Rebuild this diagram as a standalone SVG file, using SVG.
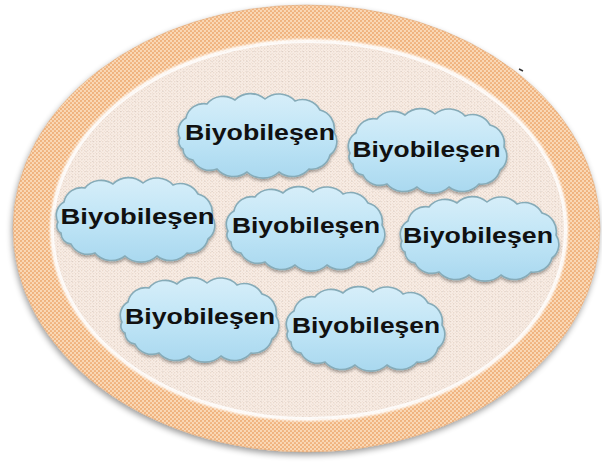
<svg xmlns="http://www.w3.org/2000/svg" xmlns:xlink="http://www.w3.org/1999/xlink" width="602" height="465" viewBox="0 0 602 465">
  <defs>
    <style>
      .label { font-family: "Liberation Sans", Arial, sans-serif; font-weight: bold; font-size: 22px; fill: #111; text-anchor: middle; }
      .cloud { fill: url(#cloudFill); stroke: #86abb8; stroke-width: 1.6; filter: url(#cloudShadow); }
    </style>
    <!-- dotted texture of the outer ring -->
    <pattern id="ringTex" width="4" height="4" patternUnits="userSpaceOnUse">
      <rect width="4" height="4" fill="#fad8b5"/>
      <circle cx="1" cy="1" r="1.1" fill="#efb07a"/>
      <circle cx="3" cy="3" r="1.1" fill="#efb07a"/>
    </pattern>
    <!-- speckled texture of the inner area -->
    <pattern id="innerTex" width="3" height="3" patternUnits="userSpaceOnUse">
      <rect width="3" height="3" fill="#f8ede5"/>
      <circle cx="0.8" cy="0.8" r="0.55" fill="#dcc3b3"/>
      <circle cx="2.3" cy="2.2" r="0.45" fill="#e8cfc0"/>
    </pattern>
    <pattern id="innerSpeck" width="7" height="5" patternUnits="userSpaceOnUse">
      <circle cx="2" cy="1.5" r="0.5" fill="#a9a09a"/>
      <circle cx="5.5" cy="4" r="0.4" fill="#b8aba2"/>
    </pattern>
    <linearGradient id="cloudFill" x1="0" y1="0" x2="0" y2="1">
      <stop offset="0" stop-color="#d6eef9"/>
      <stop offset="0.5" stop-color="#c0e5f6"/>
      <stop offset="1" stop-color="#a9d8ef"/>
    </linearGradient>
    <filter id="ringShadow" x="-10%" y="-10%" width="120%" height="120%">
      <feGaussianBlur in="SourceAlpha" stdDeviation="3"/>
      <feOffset dx="-1" dy="3"/>
      <feComponentTransfer><feFuncA type="linear" slope="0.4"/></feComponentTransfer>
      <feMerge><feMergeNode/><feMergeNode in="SourceGraphic"/></feMerge>
    </filter>
    <filter id="soft" x="-5%" y="-5%" width="110%" height="110%">
      <feGaussianBlur stdDeviation="1.2"/>
    </filter>
    <filter id="cloudShadow" x="-10%" y="-10%" width="120%" height="125%">
      <feGaussianBlur in="SourceAlpha" stdDeviation="1.5"/>
      <feOffset dx="0" dy="2"/>
      <feComponentTransfer><feFuncA type="linear" slope="0.35"/></feComponentTransfer>
      <feMerge><feMergeNode/><feMergeNode in="SourceGraphic"/></feMerge>
    </filter>
    <!-- cloud outline in a 160 x 86 box -->
    <path id="cloudShape" d="M3,46 A15,15 0 0 1 9,26 A18,18 0 0 1 30,12 A21,21 0 0 1 58,8 A22,22 0 0 1 88,7 A22,22 0 0 1 118,9 A20,20 0 0 1 143,18 A19,19 0 0 1 157,40 A17,17 0 0 1 153,63 A19,19 0 0 1 132,77 A22,22 0 0 1 102,80 A24,24 0 0 1 70,80 A22,22 0 0 1 40,77 A19,19 0 0 1 16,68 A11,11 0 0 1 6,57 A8,8 0 0 1 3,46 Z"/>
  </defs>

  <rect width="602" height="465" fill="#ffffff"/>

  <!-- outer ring -->
  <g id="ring">
    <ellipse cx="306.5" cy="228.5" rx="293.5" ry="223.5" fill="url(#ringTex)" filter="url(#ringShadow)"/>
    <ellipse cx="306.5" cy="228.5" rx="293.5" ry="223.5" fill="none" stroke="#d9a577" stroke-width="1" opacity="0.5"/>
  </g>

  <!-- inner area -->
  <g id="inner">
    <ellipse cx="309" cy="230" rx="257" ry="189" fill="none" stroke="#ffffff" stroke-width="4" filter="url(#soft)"/>
    <ellipse cx="309" cy="230" rx="257" ry="189" fill="url(#innerTex)"/>
    <ellipse cx="309" cy="230" rx="257" ry="189" fill="url(#innerSpeck)" opacity="0.5"/>
    <ellipse cx="309" cy="230" rx="256" ry="188" fill="none" stroke="#ffffff" stroke-width="2" opacity="0.8"/>
  </g>

  <line x1="519" y1="69" x2="523" y2="71" stroke="#333" stroke-width="1.4"/>

  <!-- nodes -->
  <g id="node1">
    <use xlink:href="#cloudShape" class="cloud" transform="translate(177,92)"/>
    <text class="label" x="260" y="140" textLength="150" lengthAdjust="spacingAndGlyphs">Biyobileşen</text>
  </g>
  <g id="node2">
    <use xlink:href="#cloudShape" class="cloud" transform="translate(347,107)"/>
    <text class="label" x="426.5" y="157" textLength="148" lengthAdjust="spacingAndGlyphs">Biyobileşen</text>
  </g>
  <g id="node3">
    <use xlink:href="#cloudShape" class="cloud" transform="translate(55,176)"/>
    <text class="label" x="137.5" y="224" textLength="154" lengthAdjust="spacingAndGlyphs">Biyobileşen</text>
  </g>
  <g id="node4">
    <use xlink:href="#cloudShape" class="cloud" transform="translate(225,185)"/>
    <text class="label" x="306" y="233" textLength="148" lengthAdjust="spacingAndGlyphs">Biyobileşen</text>
  </g>
  <g id="node5">
    <use xlink:href="#cloudShape" class="cloud" transform="translate(399,195)"/>
    <text class="label" x="478" y="243" textLength="150" lengthAdjust="spacingAndGlyphs">Biyobileşen</text>
  </g>
  <g id="node6">
    <use xlink:href="#cloudShape" class="cloud" transform="translate(119,276)"/>
    <text class="label" x="200" y="324" textLength="150" lengthAdjust="spacingAndGlyphs">Biyobileşen</text>
  </g>
  <g id="node7">
    <use xlink:href="#cloudShape" class="cloud" transform="translate(285,285)"/>
    <text class="label" x="366" y="333" textLength="148" lengthAdjust="spacingAndGlyphs">Biyobileşen</text>
  </g>
</svg>
